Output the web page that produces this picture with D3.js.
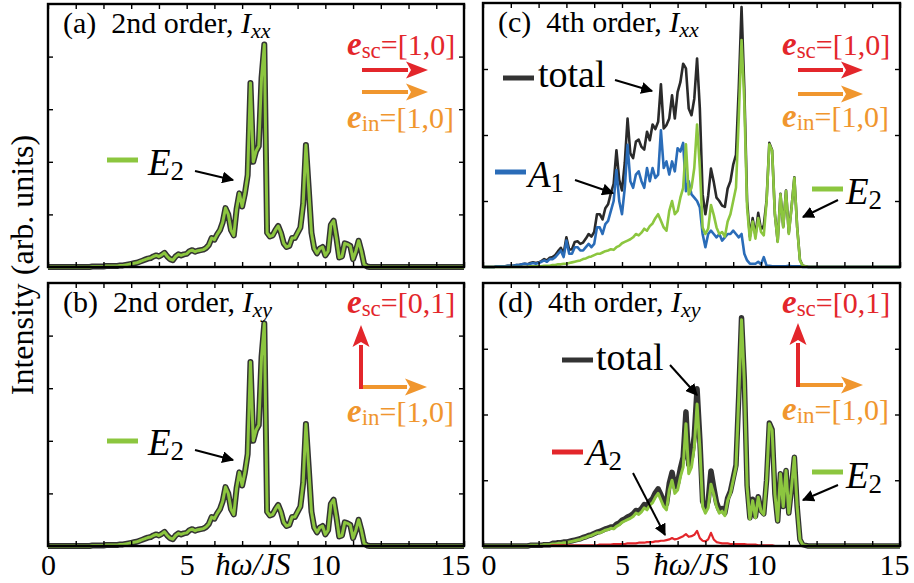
<!DOCTYPE html>
<html>
<head>
<meta charset="utf-8">
<script src="https://cdn.jsdelivr.net/npm/d3@7"></script>
<style>
  html, body { margin: 0; padding: 0; background: #fff; }
  svg text { font-family: 'Liberation Serif', 'Times New Roman', Times, 'DejaVu Serif', serif; }
</style>
</head>
<body>
<div id="chart"></div>
<script>
// energy grid, hbar*omega/JS, read every 0.1
var omega = d3.range(0, 151).map(function (i) { return i / 10; });

// 2nd order E2 (same in Ixx and Ixy)
var e2Second = [
  0, 0, 0, 0, 0, 0, 0, 0, 0, 0,
  0, 0, 0, 0, 0, 0, 0.01, 0.01, 0.01, 0.01,
  0.01, 0.02, 0.02, 0.02, 0.02, 0.02, 0.03, 0.03, 0.04, 0.05,
  0.06, 0.07, 0.08, 0.1, 0.12, 0.14, 0.16, 0.17, 0.2, 0.22,
  0.2, 0.23, 0.27, 0.2, 0.15, 0.13, 0.2, 0.24, 0.22, 0.24,
  0.25, 0.3, 0.32, 0.29, 0.31, 0.32, 0.33, 0.36, 0.42, 0.55,
  0.52, 0.62, 0.7, 0.85, 1.12, 1.0, 0.7, 0.6, 1.1, 1.4,
  1.15, 1.4, 1.75, 3.5, 2.0, 2.2, 2.3, 3.6, 4.23, 0.65,
  0.58, 0.6, 0.7, 0.78, 0.65, 0.45, 0.38, 0.4, 0.55, 0.55,
  0.65, 0.75, 1.2, 2.32, 1.5, 0.65, 0.35, 0.26, 0.35, 0.38,
  0.22, 0.3, 0.8, 0.88, 0.55, 0.18, 0.2, 0.45, 0.43, 0.4,
  0.15, 0.3, 0.5, 0.3, 0.05, 0.01, 0, 0, 0, 0,
  0, 0, 0, 0, 0, 0, 0, 0, 0, 0,
  0, 0, 0, 0, 0, 0, 0, 0, 0, 0,
  0, 0, 0, 0, 0, 0, 0, 0, 0, 0,
  0
];

// 4th order E2 (same in Ixx and Ixy)
var e2Fourth = [
  0, 0, 0, 0, 0, 0, 0, 0, 0, 0,
  0, 0, 0, 0, 0, 0, 0, 0.01, 0.01, 0.01,
  0.01, 0.01, 0.02, 0.02, 0.02, 0.03, 0.03, 0.04, 0.04, 0.05,
  0.05, 0.06, 0.07, 0.08, 0.09, 0.1, 0.12, 0.13, 0.15, 0.16,
  0.18, 0.2, 0.2, 0.22, 0.24, 0.25, 0.27, 0.26, 0.3, 0.32,
  0.36, 0.38, 0.4, 0.42, 0.45, 0.5, 0.48, 0.52, 0.58, 0.55,
  0.62, 0.66, 0.74, 0.8, 0.7, 0.6, 0.55, 0.85, 1.0, 0.8,
  0.85, 1.05, 1.2, 1.86, 1.1, 1.2, 1.5, 2.16, 1.5, 0.6,
  0.5, 0.58, 0.94, 0.79, 0.6, 0.5, 0.53, 0.46, 0.69, 0.8,
  1.0, 1.2, 2.26, 3.44, 2.5, 0.9, 0.41, 0.69, 0.43, 0.74,
  0.53, 0.48, 0.99, 1.86, 1.76, 0.79, 0.38, 1.1, 0.6, 1.15,
  0.5, 0.9, 1.35, 0.6, 0.1, 0.02, 0.01, 0, 0, 0,
  0, 0, 0, 0, 0, 0, 0, 0, 0, 0,
  0, 0, 0, 0, 0, 0, 0, 0, 0, 0,
  0, 0, 0, 0, 0, 0, 0, 0, 0, 0,
  0
];

// 4th order A1, Ixx
var a1Fourth = [
  0, 0, 0, 0, 0, 0.01, 0.01, 0.01, 0.01, 0.02,
  0.02, 0.02, 0.03, 0.03, 0.04, 0.05, 0.04, 0.05, 0.06, 0.05,
  0.06, 0.08, 0.1, 0.08, 0.12, 0.12, 0.15, 0.2, 0.25, 0.15,
  0.4, 0.2, 0.2, 0.3, 0.3, 0.25, 0.25, 0.3, 0.35, 0.3,
  0.35, 0.6, 0.6, 0.5, 0.65, 0.7, 0.85, 1.0, 1.47, 1.0,
  0.8, 1.2, 1.85, 1.3, 1.2, 1.4, 1.45, 1.3, 1.2, 1.5,
  1.3, 1.5, 1.35, 1.4, 2.07, 1.5, 1.6, 1.4, 1.6, 1.45,
  1.8, 1.75, 1.88, 1.15, 1.3, 1.1, 1.05, 1.0, 0.9, 0.5,
  0.3, 0.5, 0.55, 0.5, 0.45, 0.5, 0.4, 0.45, 0.5, 0.5,
  0.55, 0.5, 0.45, 0.5, 0.2, 0.1, 0.05, 0.05, 0.05, 0.08,
  0.04, 0.15, 0.02, 0.02, 0.01, 0.01, 0.01, 0.01, 0.01, 0.01,
  0.02, 0.01, 0.01, 0.01, 0.01, 0, 0, 0, 0, 0,
  0, 0, 0, 0, 0, 0, 0, 0, 0, 0,
  0, 0, 0, 0, 0, 0, 0, 0, 0, 0,
  0, 0, 0, 0, 0, 0, 0, 0, 0, 0,
  0
];

// 4th order total, Ixx
var totalXx = [
  0, 0, 0, 0, 0, 0.01, 0.01, 0.01, 0.01, 0.02,
  0.02, 0.02, 0.03, 0.03, 0.04, 0.05, 0.04, 0.06, 0.07, 0.06,
  0.07, 0.09, 0.12, 0.1, 0.14, 0.15, 0.18, 0.24, 0.29, 0.2,
  0.45, 0.26, 0.27, 0.38, 0.39, 0.35, 0.37, 0.43, 0.5, 0.46,
  0.53, 0.8, 0.8, 0.72, 0.89, 0.95, 1.12, 1.26, 1.77, 1.32,
  1.16, 1.58, 2.25, 1.72, 1.65, 1.9, 1.93, 1.82, 1.78, 2.05,
  1.92, 2.16, 2.09, 2.2, 2.77, 2.1, 2.15, 2.25, 2.6, 2.25,
  2.65, 2.8, 3.08, 3.01, 2.4, 2.3, 2.55, 3.16, 2.4, 1.1,
  0.8, 1.08, 1.49, 1.29, 1.05, 1.0, 0.93, 0.91, 1.19, 1.3,
  1.55, 1.7, 2.71, 3.94, 2.7, 1.0, 0.46, 0.74, 0.48, 0.82,
  0.57, 0.63, 1.01, 1.88, 1.77, 0.8, 0.39, 1.11, 0.61, 1.16,
  0.52, 0.91, 1.36, 0.61, 0.11, 0.02, 0.01, 0, 0, 0,
  0, 0, 0, 0, 0, 0, 0, 0, 0, 0,
  0, 0, 0, 0, 0, 0, 0, 0, 0, 0,
  0, 0, 0, 0, 0, 0, 0, 0, 0, 0,
  0
];

// 4th order A2, Ixy
var a2Fourth = [
  0, 0, 0, 0, 0, 0, 0, 0, 0, 0,
  0, 0, 0, 0, 0, 0, 0, 0, 0, 0,
  0, 0, 0, 0, 0, 0.01, 0.01, 0.01, 0.01, 0.01,
  0.01, 0.01, 0.01, 0.01, 0.01, 0.01, 0.01, 0.01, 0.01, 0.01,
  0.01, 0.01, 0.02, 0.02, 0.02, 0.02, 0.02, 0.03, 0.03, 0.03,
  0.03, 0.03, 0.04, 0.04, 0.04, 0.04, 0.05, 0.05, 0.05, 0.06,
  0.06, 0.06, 0.07, 0.07, 0.08, 0.08, 0.09, 0.1, 0.12, 0.1,
  0.11, 0.13, 0.15, 0.18, 0.14, 0.15, 0.17, 0.23, 0.12, 0.08,
  0.07, 0.1, 0.2, 0.1, 0.06, 0.05, 0.04, 0.04, 0.04, 0.03,
  0.03, 0.03, 0.03, 0.03, 0.03, 0.02, 0.02, 0.02, 0.02, 0.01,
  0.01, 0.01, 0.01, 0.01, 0.01, 0, 0, 0, 0, 0,
  0, 0, 0, 0, 0, 0, 0, 0, 0, 0,
  0, 0, 0, 0, 0, 0, 0, 0, 0, 0,
  0, 0, 0, 0, 0, 0, 0, 0, 0, 0,
  0, 0, 0, 0, 0, 0, 0, 0, 0, 0,
  0
];

// 4th order total, Ixy
var totalXy = [
  0, 0, 0, 0, 0, 0, 0, 0, 0, 0,
  0, 0, 0, 0, 0, 0, 0, 0.01, 0.01, 0.01,
  0.01, 0.01, 0.02, 0.02, 0.02, 0.04, 0.04, 0.05, 0.05, 0.06,
  0.06, 0.07, 0.08, 0.09, 0.1, 0.11, 0.13, 0.14, 0.16, 0.17,
  0.19, 0.21, 0.22, 0.24, 0.26, 0.27, 0.29, 0.29, 0.33, 0.35,
  0.39, 0.41, 0.44, 0.46, 0.49, 0.54, 0.53, 0.57, 0.63, 0.61,
  0.68, 0.72, 0.81, 0.87, 0.78, 0.68, 0.64, 0.95, 1.12, 0.9,
  0.96, 1.18, 1.35, 2.04, 1.24, 1.35, 1.67, 2.39, 1.62, 0.68,
  0.57, 0.68, 1.14, 0.89, 0.66, 0.55, 0.57, 0.5, 0.73, 0.83,
  1.03, 1.23, 2.29, 3.47, 2.53, 0.92, 0.43, 0.71, 0.45, 0.75,
  0.54, 0.49, 1.0, 1.87, 1.77, 0.79, 0.38, 1.1, 0.6, 1.15,
  0.5, 0.9, 1.35, 0.6, 0.1, 0.02, 0.01, 0, 0, 0,
  0, 0, 0, 0, 0, 0, 0, 0, 0, 0,
  0, 0, 0, 0, 0, 0, 0, 0, 0, 0,
  0, 0, 0, 0, 0, 0, 0, 0, 0, 0,
  0
];

var xLabelTicks = [0, 5, 10, 15]
  , xMinorTicks = d3.range(0, 16)
  , yTicksSecond = [1, 2, 3, 4]
  , yTicksFourth = [1, 2, 3]
  ;

var w = 914
  , h = 583
  , serif = "'Liberation Serif', 'Times New Roman', Times, 'DejaVu Serif', serif"
  , green = '#8cc63f'
  , dark = '#333333'
  , blue = '#2a6cb8'
  , red = '#e3262b'
  , orange = '#f0962e'
  ;

var svg = d3.select('#chart').append('svg')
            .attr('width', w).attr('height', h)
            .attr('font-family', serif)
  , defs = svg.append('defs')
  ;

defs.append('marker')
  .attr('id', 'head')
  .attr('viewBox', '0 0 10 10')
  .attr('refX', 9).attr('refY', 5)
  .attr('markerWidth', 12).attr('markerHeight', 12)
  .attr('markerUnits', 'userSpaceOnUse')
  .attr('orient', 'auto')
  .append('path')
  .attr('d', 'M0,0 L10,5 L0,10 Z')
  .style('fill', '#000');

var panels = [
  { left: 48, right: 464, top: 4, bottom: 267, yMax: 5, yTicks: yTicksSecond,
    tag: '(a)', order: '2nd', sub: 'xx', ticks: false,
    series: [
      { values: e2Second, color: dark, width: 6 },
      { values: e2Second, color: green, width: 3 }
    ],
    legends: [
      { color: green, lx: 107, ly: 160, tx: 148, ty: 175, name: 'E', idx: '2', arrow: [195, 171, 233, 180] }
    ],
    pol: { x: 347, sc: '[1,0]', scY: 55, inY: 128, vertical: false, ax: 362, ax2: 428, ay1: 70, ay2: 92 } },
  { left: 48, right: 464, top: 283, bottom: 546, yMax: 5, yTicks: yTicksSecond,
    tag: '(b)', order: '2nd', sub: 'xy', ticks: true, axisTitle: 253,
    series: [
      { values: e2Second, color: dark, width: 6 },
      { values: e2Second, color: green, width: 3 }
    ],
    legends: [
      { color: green, lx: 107, ly: 441, tx: 148, ty: 455, name: 'E', idx: '2', arrow: [195, 450, 233, 460] }
    ],
    pol: { x: 347, sc: '[0,1]', scY: 313, inY: 422, vertical: true, ax: 361, ax2: 427, ay1: 387, ay2: 325 } },
  { left: 483, right: 900, top: 3, bottom: 267, yMax: 4, yTicks: yTicksFourth,
    tag: '(c)', order: '4th', sub: 'xx', ticks: false,
    series: [
      { values: totalXx, color: '#2a2a2a', width: 2.6 },
      { values: a1Fourth, color: blue, width: 2.6 },
      { values: e2Fourth, color: green, width: 2.6 }
    ],
    legends: [
      { color: dark, lx: 503, ly: 78, tx: 538, ty: 87, word: 'total', arrow: [615, 80, 652, 91] },
      { color: blue, lx: 495, ly: 172, tx: 528, ty: 187, name: 'A', idx: '1', arrow: [575, 180, 613, 193] },
      { color: green, lx: 812, ly: 189, tx: 846, ty: 204, name: 'E', idx: '2', arrow: [838, 200, 803, 217] }
    ],
    pol: { x: 782, sc: '[1,0]', scY: 55, inY: 127, vertical: false, ax: 798, ax2: 863, ay1: 70, ay2: 94 } },
  { left: 483, right: 900, top: 283, bottom: 546, yMax: 4, yTicks: yTicksFourth,
    tag: '(d)', order: '4th', sub: 'xy', ticks: true, axisTitle: 691,
    series: [
      { values: totalXy, color: dark, width: 5.5 },
      { values: e2Fourth, color: green, width: 3 },
      { values: a2Fourth, color: red, width: 2.2 }
    ],
    legends: [
      { color: dark, lx: 562, ly: 360, tx: 596, ty: 370, word: 'total', arrow: [670, 365, 697, 395] },
      { color: red, lx: 552, ly: 452, tx: 586, ty: 465, name: 'A', idx: '2', arrow: [633, 473, 665, 535] },
      { color: green, lx: 812, ly: 472, tx: 846, ty: 488, name: 'E', idx: '2', arrow: [838, 485, 803, 500] }
    ],
    pol: { x: 782, sc: '[0,1]', scY: 313, inY: 420, vertical: true, ax: 798, ax2: 863, ay1: 385, ay2: 323 } }
];

function fatArrow(g, x1, y1, x2, y2, color) {
  var dx = x2 - x1
    , dy = y2 - y1
    , len = Math.sqrt(dx * dx + dy * dy)
    , ux = dx / len
    , uy = dy / len
    , head = 22
    , half = 8.5
    , bx = x2 - ux * head
    , by = y2 - uy * head
    ;
  g.append('line')
    .attr('x1', x1).attr('y1', y1)
    .attr('x2', bx + ux * 2).attr('y2', by + uy * 2)
    .style('stroke', color).style('stroke-width', 4);
  g.append('path')
    .attr('d', 'M' + x2 + ',' + y2 +
               'L' + (bx - uy * half) + ',' + (by + ux * half) +
               'L' + (bx + ux * 5) + ',' + (by + uy * 5) +
               'L' + (bx + uy * half) + ',' + (by - ux * half) + 'Z')
    .style('fill', color);
}

function polText(g, x, y, sub, vec, color) {
  var t = g.append('text').attr('x', x).attr('y', y)
            .style('font-family', serif)
            .style('fill', color).style('font-size', '30px');
  t.append('tspan').text('e')
    .style('font-weight', 'bold').style('font-style', 'italic').style('font-size', '33px');
  t.append('tspan').text(sub).attr('dy', 3).style('font-size', '23px');
  t.append('tspan').text('=' + vec).attr('dy', -3);
}

panels.forEach(function (p) {
  var x = d3.scaleLinear().domain([0, 15]).range([p.left, p.right])
    , y = d3.scaleLinear().domain([0, p.yMax]).range([p.bottom, p.top])
    , g = svg.append('g')
    , line = d3.line()
        .x(function (d, i) { return x(omega[i]); })
        .y(function (d) { return y(d); })
    ;

  g.selectAll('path.curve')
    .data(p.series)
    .enter()
    .append('path')
    .attr('class', 'curve')
    .attr('d', function (s) { return line(s.values); })
    .style('fill', 'none')
    .style('stroke', function (s) { return s.color; })
    .style('stroke-width', function (s) { return s.width; })
    .style('stroke-linejoin', 'round');

  // frame ticks, all pointing inward
  var tickAxes = [
    [d3.axisBottom(x).tickValues(xMinorTicks), 'translate(0,' + p.bottom + ')'],
    [d3.axisTop(x).tickValues(xMinorTicks), 'translate(0,' + p.top + ')'],
    [d3.axisLeft(y).tickValues(p.yTicks), 'translate(' + p.left + ',0)'],
    [d3.axisRight(y).tickValues(p.yTicks), 'translate(' + p.right + ',0)']
  ];
  tickAxes.forEach(function (a) {
    var ax = g.append('g')
      .attr('transform', a[1])
      .call(a[0].tickSize(-5).tickFormat(''));
    ax.select('.domain').remove();
    ax.selectAll('line').style('stroke', '#000').style('stroke-width', 1.4);
  });

  g.append('rect')
    .attr('x', p.left).attr('y', p.top)
    .attr('width', p.right - p.left).attr('height', p.bottom - p.top)
    .style('fill', 'none').style('stroke', '#000').style('stroke-width', 2.4);

  if (p.ticks) {
    var lab = g.append('g')
      .attr('transform', 'translate(0,' + p.bottom + ')')
      .call(d3.axisBottom(x).tickValues(xLabelTicks).tickSize(0).tickPadding(8));
    lab.attr('font-family', serif).attr('font-size', 30);
    lab.select('.domain').remove();
    lab.selectAll('text')
      .style('font-family', serif)
      .style('font-size', '30px')
      .style('fill', '#000');
    // hand-nudged end labels so 15 and 0 do not collide
    lab.selectAll('text')
      .filter(function (d) { return d === 15; })
      .attr('text-anchor', 'end').attr('x', p.left < 100 ? 6 : 9);
    lab.selectAll('text')
      .filter(function (d) { return d === 0 && p.left > 100; })
      .attr('text-anchor', 'start').attr('x', -2);

    g.append('text')
      .attr('x', p.axisTitle).attr('y', 575)
      .attr('text-anchor', 'middle')
      .style('font-family', serif)
      .style('font-size', '31px').style('font-style', 'italic')
      .text('\u0127\u03c9/JS');
  }

  // panel title
  var title = g.append('text')
    .attr('x', p.left + 15).attr('y', p.top + 29)
    .style('font-family', serif)
    .style('font-size', '30px');
  title.append('tspan').text(p.tag + '\u00a0\u00a0' + p.order + ' order, ');
  title.append('tspan').text('I').style('font-style', 'italic');
  title.append('tspan').text(p.sub).attr('dy', 5)
    .style('font-style', 'italic').style('font-size', '22px');

  // legends
  p.legends.forEach(function (l) {
    g.append('line')
      .attr('x1', l.lx).attr('x2', l.lx + 31)
      .attr('y1', l.ly).attr('y2', l.ly)
      .style('stroke', l.color).style('stroke-width', 5);
    var t = g.append('text').attr('x', l.tx).attr('y', l.ty)
              .style('font-family', serif);
    if (l.word) {
      t.style('font-size', '38px').text(l.word);
    } else {
      t.append('tspan').text(l.name).style('font-style', 'italic').style('font-size', '37px');
      t.append('tspan').text(l.idx).attr('dy', 5).style('font-size', '27px');
    }
    g.append('line')
      .attr('x1', l.arrow[0]).attr('y1', l.arrow[1])
      .attr('x2', l.arrow[2]).attr('y2', l.arrow[3])
      .style('stroke', '#000').style('stroke-width', 2)
      .attr('marker-end', 'url(#head)');
  });

  // polarisation vectors
  var q = p.pol;
  polText(g, q.x, q.scY, 'sc', q.sc, red);
  polText(g, q.x, q.inY, 'in', '[1,0]', orange);
  if (q.vertical) {
    fatArrow(g, q.ax, q.ay1, q.ax2, q.ay1, orange);
    fatArrow(g, q.ax, q.ay1 + 2, q.ax, q.ay2, red);
  } else {
    fatArrow(g, q.ax, q.ay1, q.ax2, q.ay1, red);
    fatArrow(g, q.ax, q.ay2, q.ax2, q.ay2, orange);
  }
});

svg.append('text')
  .attr('transform', 'translate(33,265) rotate(-90)')
  .attr('text-anchor', 'middle')
  .style('font-family', serif)
  .style('font-size', '32px')
  .text('Intensity (arb. units)');
</script>
</body>
</html>
